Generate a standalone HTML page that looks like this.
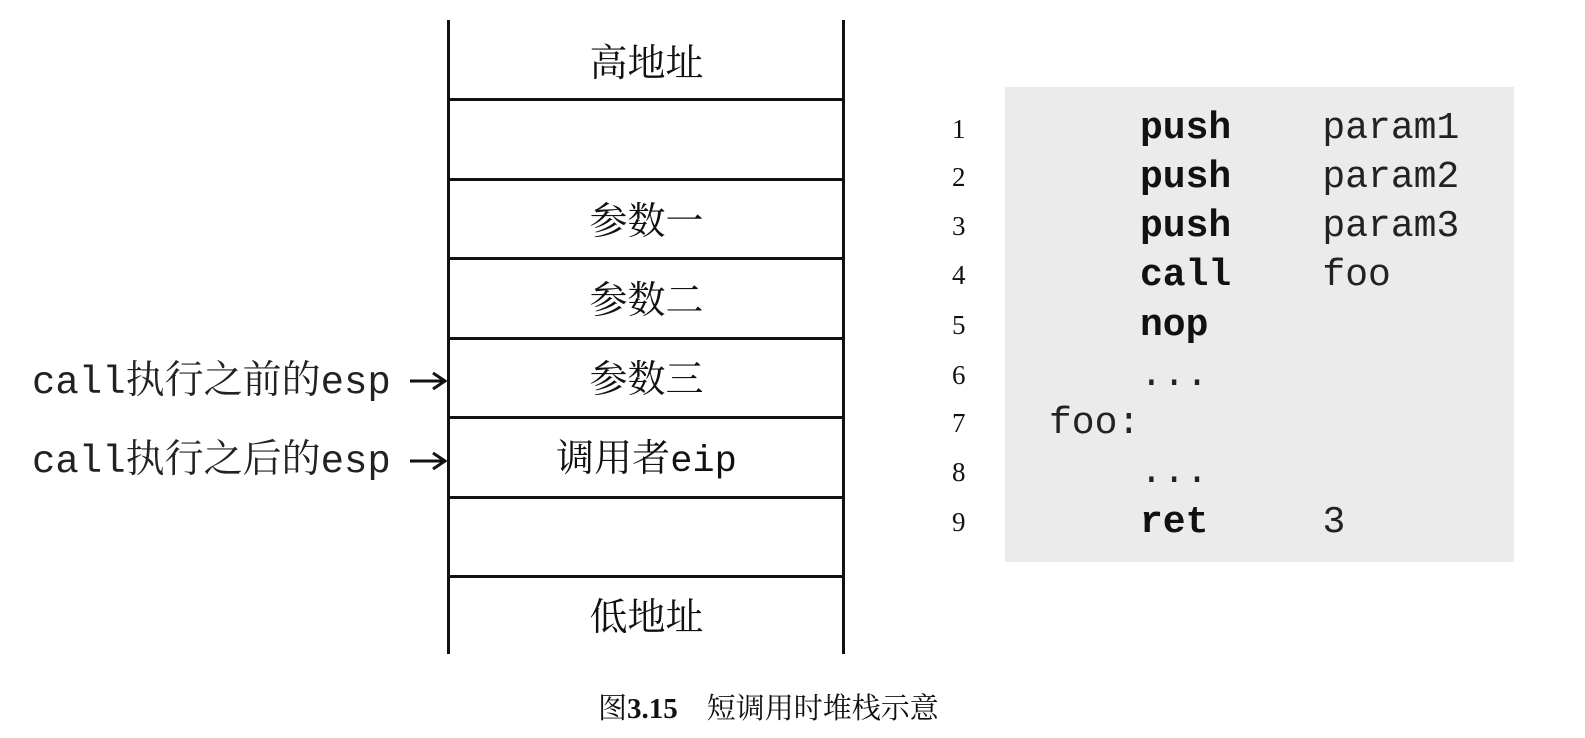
<!DOCTYPE html>
<html><head><meta charset="utf-8"><style>
body{margin:0;background:#fff;width:1585px;height:738px;overflow:hidden;position:relative}
.a{position:absolute;white-space:nowrap}
.h{position:absolute;background:#111}
.cell{position:absolute;left:449px;width:395px;text-align:center;font:38px "Liberation Serif","Noto Serif CJK SC",serif;line-height:40px;color:#111}
.m{font-family:"Liberation Mono","Noto Serif CJK SC",monospace;font-size:37px}
.lab{position:absolute;left:32px;font:39px "Liberation Mono","Noto Serif CJK SC",monospace;line-height:40px;color:#222;white-space:nowrap}
.n{position:absolute;left:952px;font:27px "Liberation Serif",serif;line-height:30px;color:#111}
.c{position:absolute;font:38px "Liberation Mono",monospace;line-height:40px;color:#222;white-space:pre}
b{font-weight:bold;color:#111}
</style></head><body>
<div class="h" style="left:447px;top:20px;width:3px;height:634px"></div>
<div class="h" style="left:842px;top:20px;width:3px;height:634px"></div>
<div class="h" style="left:447px;top:98px;width:398px;height:3px"></div>
<div class="h" style="left:447px;top:178px;width:398px;height:3px"></div>
<div class="h" style="left:447px;top:257px;width:398px;height:3px"></div>
<div class="h" style="left:447px;top:337px;width:398px;height:3px"></div>
<div class="h" style="left:447px;top:416px;width:398px;height:3px"></div>
<div class="h" style="left:447px;top:496px;width:398px;height:3px"></div>
<div class="h" style="left:447px;top:575px;width:398px;height:3px"></div>

<div class="cell" style="top:44px">高地址</div>
<div class="cell" style="top:202px">参数一</div>
<div class="cell" style="top:281px">参数二</div>
<div class="cell" style="top:360px">参数三</div>
<div class="cell" style="top:439px">调用者<span class="m">eip</span></div>
<div class="cell" style="top:598px">低地址</div>

<div class="lab" style="top:363px">call执行之前的esp</div>
<div class="lab" style="top:442px">call执行之后的esp</div>
<svg class="a" style="left:400px;top:360px" width="50" height="120">
<g stroke="#111" stroke-width="3" fill="none">
<line x1="10" y1="21" x2="44" y2="21"/><polyline points="33,13 45,21 33,29"/>
<line x1="10" y1="101" x2="44" y2="101"/><polyline points="33,93 45,101 33,109"/>
</g></svg>

<div class="a" style="left:1005px;top:87px;width:509px;height:475px;background:#ebebeb"></div>
<div class="n" style="top:114px">1</div>
<div class="n" style="top:162px">2</div>
<div class="n" style="top:211px">3</div>
<div class="n" style="top:260px">4</div>
<div class="n" style="top:310px">5</div>
<div class="n" style="top:360px">6</div>
<div class="n" style="top:408px">7</div>
<div class="n" style="top:457px">8</div>
<div class="n" style="top:507px">9</div>

<div class="c" style="left:1140px;top:109px"><b>push</b>    param1</div>
<div class="c" style="left:1140px;top:158px"><b>push</b>    param2</div>
<div class="c" style="left:1140px;top:207px"><b>push</b>    param3</div>
<div class="c" style="left:1140px;top:256px"><b>call</b>    foo</div>
<div class="c" style="left:1140px;top:306px"><b>nop</b></div>
<div class="c" style="left:1140px;top:356px">...</div>
<div class="c" style="left:1049px;top:404px">foo:</div>
<div class="c" style="left:1140px;top:453px">...</div>
<div class="c" style="left:1140px;top:503px"><b>ret</b>     3</div>

<div class="a" style="left:598px;top:686px;font:29px 'Liberation Serif','Noto Serif CJK SC',serif;color:#111">图<b>3.15</b>　短调用时堆栈示意</div>
</body></html>
